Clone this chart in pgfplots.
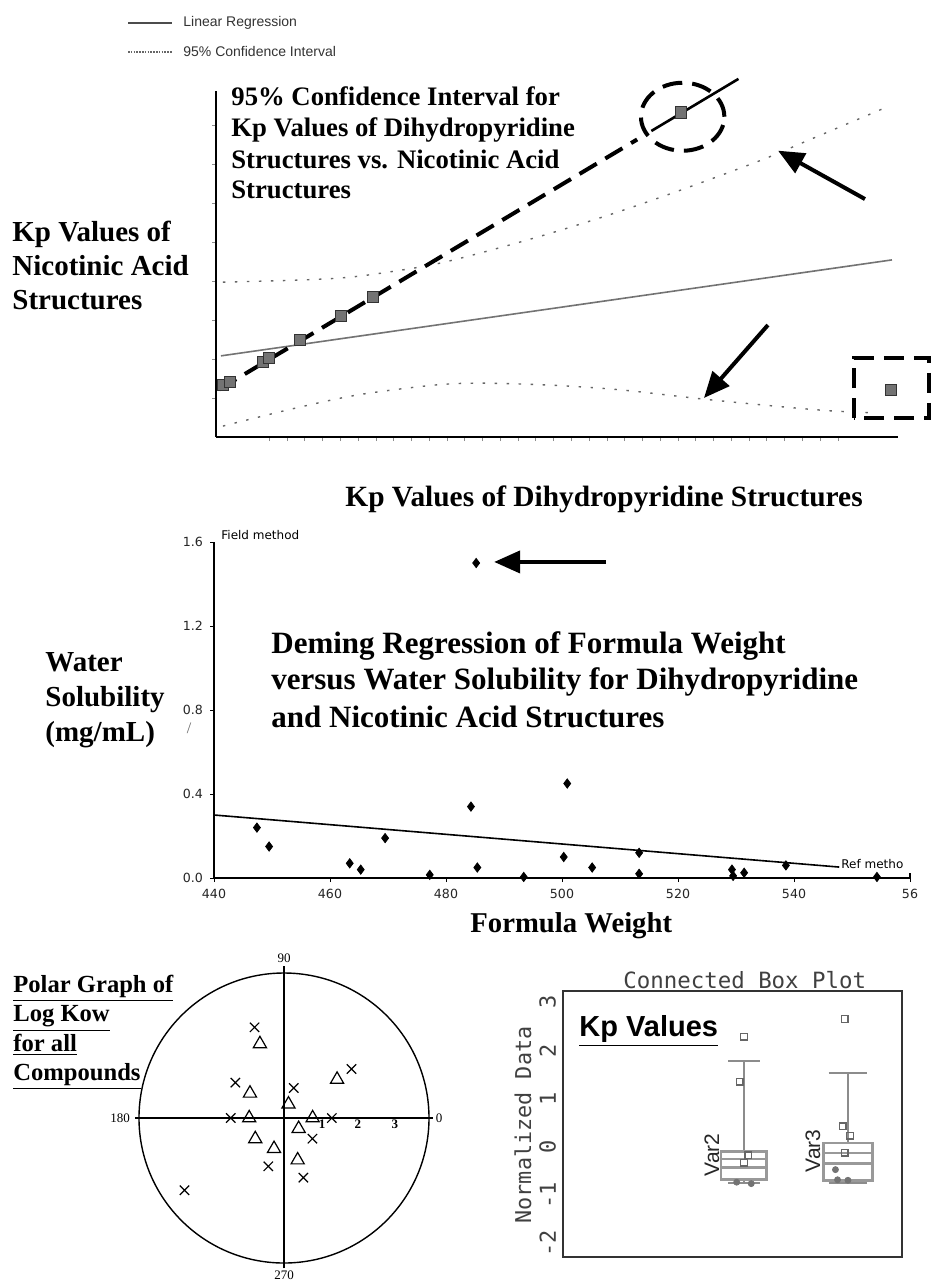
\documentclass[border=0pt]{standalone}
\usepackage{fontspec}
\setmainfont{Liberation Serif}
\newfontfamily\arial{Liberation Sans}
\newfontfamily\dejavu{DejaVu Sans}
\newfontfamily\mono{DejaVu Sans Mono}
\usepackage{pgfplots}
\pgfplotsset{compat=1.18}
\usepgfplotslibrary{statistics}
\usetikzlibrary{arrows.meta}

\newcommand\ttl{\bfseries\fontsize{13.35}{16}\selectfont}
\newcommand\lab{\bfseries\fontsize{14.5}{17}\selectfont}
\newcommand\mtl{\bfseries\fontsize{15.5}{18}\selectfont}
\newcommand\ptl{\bfseries\fontsize{12.3}{14}\selectfont}

\begin{document}
\begin{tikzpicture}
\path[use as bounding box] (0,0) rectangle (466pt,-641.5pt);
\fill[white] (0,0) rectangle (466pt,-641.5pt);

% ---------------- top panel ----------------
\begin{axis}[
  at={(108pt,-218.5pt)}, anchor=south west, scale only axis,
  width=341pt, height=173pt,
  xmin=0, xmax=38.38, ymin=0, ymax=8.87,
  axis lines=left, axis line style={-},
  x axis line style={line width=1.4pt},
  y axis line style={line width=0.9pt},
  xtick={3,...,35}, ytick={1,...,8},
  xticklabels={}, yticklabels={},
  tick align=outside, major tick length=2pt,
  tick style={black!45, line width=0.4pt},
  clip=false,
]
% confidence bands
\addplot[black!60, line width=0.7pt, dash pattern=on 1.2pt off 4.8pt, smooth] coordinates {
 (0.39,3.97) (5.1,4.03) (8.0,4.12) (12.0,4.40) (14.9,4.72) (18.8,5.22) (22.7,5.78) (26.7,6.42) (30.7,7.10) (33.3,7.60) (37.5,8.41)};
\addplot[black!60, line width=0.7pt, dash pattern=on 1.2pt off 4.8pt, smooth] coordinates {
 (0.39,0.28) (4.28,0.72) (7.99,1.08) (12.27,1.33) (14.86,1.38) (18.80,1.33) (22.73,1.21) (27.46,0.97) (31.96,0.77) (34.61,0.67) (36.97,0.62)};
% linear regression (gray)
\addplot[black!55, line width=0.8pt] coordinates {(0.28,2.08) (38.04,4.54)};
% hand-drawn dashed line through the points
\addplot[black, line width=2pt, dash pattern=on 10pt off 5pt] coordinates {(0.17,1.22) (23.7,7.627)};
\addplot[black, line width=1.3pt] coordinates {(24.5,7.845) (29.4,9.18)};
% data points
\addplot[only marks, mark=square*, mark size=2.8pt, mark options={fill=black!55, draw=black!80, line width=0.5pt}] coordinates {
 (0.39,1.33) (0.79,1.41) (2.64,1.92) (2.98,2.03) (4.73,2.49) (7.03,3.10) (8.84,3.59) (26.17,8.32) (37.99,1.21)};
% annotations
\draw[black, line width=2pt, dash pattern=on 10pt off 5pt] (axis cs:26.26,8.21) ellipse [x radius=20.85pt, y radius=17pt];
\draw[black, line width=2pt, dash pattern=on 10pt off 5pt] (axis cs:35.9,0.49) rectangle (axis cs:40.12,2.03);
\draw[-{Triangle[length=13pt,width=11pt]}, line width=2pt] (axis cs:36.52,6.10) -- (axis cs:31.63,7.34);
\draw[-{Triangle[length=13pt,width=11pt]}, line width=2pt] (axis cs:31.06,2.87) -- (axis cs:27.46,1.0);
\end{axis}

% ---------------- middle panel ----------------
\begin{axis}[
  at={(107pt,-439pt)}, anchor=south west, scale only axis,
  width=348pt, height=168pt,
  xmin=440, xmax=560, ymin=0, ymax=1.6,
  axis lines=left, axis line style={-},
  x axis line style={line width=1pt},
  y axis line style={line width=0.6pt},
  xtick={440,460,480,500,520,540,560}, xticklabels={440,460,480,500,520,540,56},
  ytick={0,0.4,0.8,1.2,1.6}, yticklabels={0.0,0.4,0.8,1.2,1.6},
  tick align=outside, major tick length=2pt, tick style={black, line width=0.5pt},
  ticklabel style={font=\dejavu\fontsize{6.3}{7}\selectfont, text=black!85},
  clip=false,
]
\addplot[black, line width=0.8pt] coordinates {(440,0.30) (547.8,0.052)};
\addplot[only marks, mark=diamond*, mark size=2.3pt, black] coordinates {
 (447.4,0.24) (449.5,0.15) (463.4,0.07) (465.3,0.04) (469.5,0.19) (477.2,0.015)
 (485.2,1.50) (484.3,0.34) (485.4,0.05) (493.4,0.005) (500.3,0.10) (500.9,0.45)
 (505.2,0.05) (513.3,0.12) (513.3,0.02) (529.3,0.04) (529.5,0.01) (531.4,0.025)
 (538.6,0.06) (554.3,0.005)};
\draw[-{Triangle[length=13pt,width=11pt]}, line width=2pt] (axis cs:507.6,1.505) -- (axis cs:488.3,1.505);
\draw[line width=0.6pt] (axis cs:560,0) -- (axis cs:560,0.025);
\end{axis}

% ---------------- polar panel ----------------
\begin{axis}[
  at={(69.5pt,-631.5pt)}, anchor=south west, scale only axis,
  width=145pt, height=145pt,
  xmin=-4, xmax=4, ymin=-4, ymax=4,
  hide axis, clip=false,
]
\draw[line width=0.7pt] (axis cs:0,0) circle[radius=72.5pt];
\draw[line width=0.7pt] (axis cs:-4.1,0) -- (axis cs:4.1,0);
\draw[line width=0.7pt] (axis cs:0,-4.15) -- (axis cs:0,4.2);
\addplot[only marks, mark=x, mark size=3.3pt, line width=0.6pt, black, data cs=polar] coordinates {
 (0,1.32) (36,2.30) (72,0.87) (108,2.63) (144,1.66) (180,1.47) (216,3.39) (252,1.40) (288,1.73) (324,0.97)};
\addplot[only marks, mark=triangle, mark size=3.8pt, line width=0.6pt, black, data cs=polar] coordinates {
 (0,0.79) (36,1.81) (72,0.40) (108,2.15) (144,1.16) (180,0.96) (216,0.98) (252,0.89) (288,1.22) (324,0.50)};
\node[font=\fontsize{6.5}{7}\selectfont] at (axis cs:4.28,0) {0};
\node[font=\fontsize{6.5}{7}\selectfont] at (axis cs:-4.52,0) {180};
\node[font=\fontsize{6.5}{7}\selectfont] at (axis cs:0,4.41) {90};
\node[font=\fontsize{6.5}{7}\selectfont] at (axis cs:0,-4.33) {270};
\node[font=\bfseries\fontsize{6.5}{7}\selectfont] at (axis cs:1.05,-0.17) {1};
\node[font=\bfseries\fontsize{6.5}{7}\selectfont] at (axis cs:2.04,-0.17) {2};
\node[font=\bfseries\fontsize{6.5}{7}\selectfont] at (axis cs:3.06,-0.17) {3};
\end{axis}

% ---------------- box plot panel ----------------
\begin{axis}[
  at={(281.5pt,-628.5pt)}, anchor=south west, scale only axis,
  width=169.5pt, height=133pt,
  xmin=0.26, xmax=3.52, ymin=-2.28, ymax=3.23,
  axis line style={line width=1pt, black!80},
  xtick=\empty, ytick={-2,...,3},
  major tick length=0pt,
  /pgf/number format/assume math mode=true,
  yticklabel style={rotate=90, anchor=south, font=\mono\fontsize{11}{12}\selectfont, text=black!75},
  boxplot/draw direction=y,
  boxplot/every whisker/.style={line width=0.9pt, black!45},
  clip=false,
]
\addplot[boxplot prepared={lower whisker=-0.75, lower quartile=-0.68, median=-0.42,
  upper quartile=-0.10, upper whisker=1.78, draw position=2, box extend=0.44, whisker extend=0.30},
  draw=black!40, line width=1.4pt, solid] coordinates {};
\addplot[boxplot prepared={lower whisker=-0.74, lower quartile=-0.70, median=-0.35,
  upper quartile=0.08, upper whisker=1.53, draw position=3, box extend=0.47, whisker extend=0.37},
  draw=black!40, line width=1.4pt, solid] coordinates {};
\addplot[black!40, line width=1pt] coordinates {(1.78,-0.25) (2.22,-0.25)};
\addplot[black!40, line width=1pt] coordinates {(2.765,-0.13) (3.235,-0.13)};
\addplot[only marks, mark=*, mark size=1.5pt, black!55] coordinates {
 (1.93,-0.73) (2.07,-0.76) (2.88,-0.47) (3.0,-0.69) (2.9,-0.68)};
\addplot[only marks, mark=square, mark size=1.6pt, black!60, line width=0.6pt] coordinates {
 (2,2.28) (1.96,1.35) (2.04,-0.17) (2,-0.33) (2.97,2.65) (2.95,0.43) (3.02,0.23) (2.97,-0.12)};
\end{axis}

% ---------------- text (pixel coordinates) ----------------
\begin{scope}[x=0.5pt, y=-0.5pt]
% legend
\draw[black!70, line width=0.6pt] (128,23) -- (172,23);
\node[anchor=west, font=\arial\fontsize{7}{8}\selectfont, text=black!80, inner sep=0] at (183,23) {Linear Regression};
\draw[black!60, line width=0.6pt, dash pattern=on 0.8pt off 0.6pt] (128,52) -- (172,52);
\node[anchor=west, font=\arial\fontsize{7}{8}\selectfont, text=black!80, inner sep=0] at (183,52) {95\% Confidence Interval};
% top title
\node[anchor=base west, inner sep=0, font=\ttl] at (231,105.5) {95\% Confidence Interval for};
\node[anchor=base west, inner sep=0, font=\ttl] at (231,137) {Kp Values of Dihydropyridine};
\node[anchor=base west, inner sep=0, font=\ttl] at (231,169) {Structures vs. Nicotinic Acid};
\node[anchor=base west, inner sep=0, font=\ttl] at (231,199) {Structures};
% top y label
\node[anchor=base west, inner sep=0, font=\lab] at (12,241.6) {Kp Values of};
\node[anchor=base west, inner sep=0, font=\lab] at (12,275.6) {Nicotinic Acid};
\node[anchor=base west, inner sep=0, font=\lab] at (12,309.6) {Structures};
% top x label
\node[anchor=base west, inner sep=0, font={\bfseries\fontsize{14.7}{17}\selectfont}] at (345,506.6) {Kp Values of Dihydropyridine Structures};
% middle title
\node[anchor=base west, inner sep=0, font=\mtl] at (271,653) {Deming Regression of Formula Weight};
\node[anchor=base west, inner sep=0, font=\mtl] at (271,689) {versus Water Solubility for Dihydropyridine};
\node[anchor=base west, inner sep=0, font=\mtl] at (271,727) {and Nicotinic Acid Structures};
% middle y label
\node[anchor=base west, inner sep=0, font=\lab] at (45,671.6) {Water};
\node[anchor=base west, inner sep=0, font=\lab] at (45,706.6) {Solubility};
\node[anchor=base west, inner sep=0, font=\lab] at (45,741.6) {(mg/mL)};
\node[anchor=center, inner sep=0, font=\fontsize{8}{9}\selectfont, text=black!60] at (189,728) {/};
\node[anchor=base west, inner sep=0, font=\dejavu\fontsize{6}{7}\selectfont] at (221,539) {Field method};
\node[anchor=base west, inner sep=0, font=\dejavu\fontsize{6}{7}\selectfont] at (841,868) {Ref metho};
\node[anchor=base west, inner sep=0, font={\bfseries\fontsize{14.35}{17}\selectfont}] at (470,932.6) {Formula Weight};
% polar title
\node[anchor=base west, inner sep=0, font=\ptl] at (13,992.7) {\underline{Polar Graph of}};
\node[anchor=base west, inner sep=0, font=\ptl] at (13,1021.7) {\underline{Log Kow}};
\node[anchor=base west, inner sep=0, font=\ptl] at (13,1051.7) {\underline{for all}};
\node[anchor=base west, inner sep=0, font=\ptl] at (13,1080) {\underline{Compounds}};
% box plot texts
\node[anchor=base west, inner sep=0, font=\mono\fontsize{11.2}{12}\selectfont, text=black!75] at (623,988) {Connected Box Plot};
\node[rotate=90, inner sep=0, font=\mono\fontsize{10.9}{12}\selectfont, text=black!75] at (523,1125) {Normalized Data};
\node[anchor=base west, inner sep=0, font=\arial\bfseries\fontsize{14.5}{17}\selectfont] at (579,1036.7) {\underline{Kp Values}};
\node[rotate=90, inner sep=0, font=\arial\fontsize{10.5}{12}\selectfont, text=black!85] at (712,1155) {Var2};
\node[rotate=90, inner sep=0, font=\arial\fontsize{10.5}{12}\selectfont, text=black!85] at (813,1151) {Var3};
\end{scope}
\end{tikzpicture}
\end{document}
